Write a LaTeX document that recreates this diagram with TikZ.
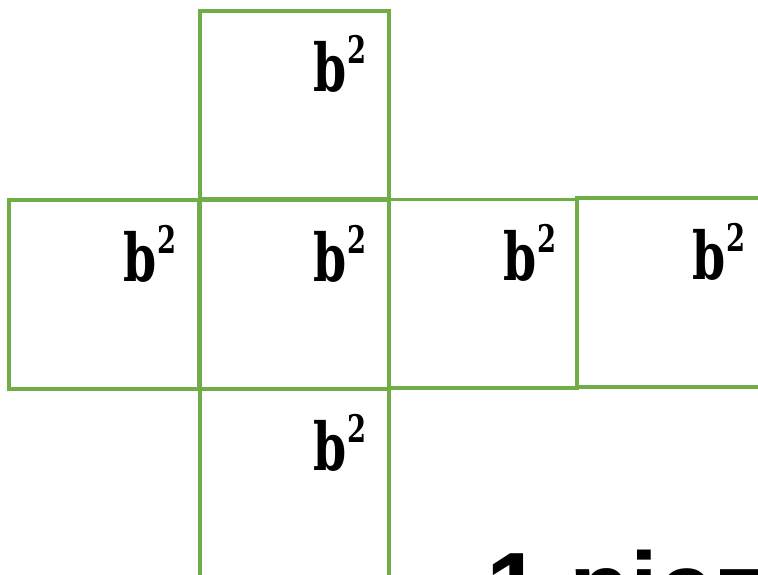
\documentclass[tikz,border=0pt]{standalone}
\usepackage{fontspec}
\setmainfont{DejaVu Serif}
\newfontfamily\bottomfont{Liberation Sans}
\definecolor{netgreen}{HTML}{70AD47}
\tikzset{
  face/.style={draw=netgreen, line width=3.2pt},
  lab/.style={anchor=base east, inner sep=0pt, font=\fontsize{66}{72}\selectfont\bfseries}
}
\newcommand{\bsq}{\scalebox{0.72}[1]{b\hspace{1pt}\raisebox{28pt}{\fontsize{38}{40}\selectfont 2}}}
\begin{document}
\begin{tikzpicture}[x=1pt,y=-1pt]
\useasboundingbox (0,0) rectangle (758,575);
\clip (0,0) rectangle (758,575);
\fill[white] (0,0) rectangle (758,575);
% faces
\draw[face] (200,11) rectangle (389,199);
\draw[face] (9,200) rectangle (199,389);
\draw[face] (200,200) rectangle (389,389);
\draw[face] (389,199.5) rectangle (577,388);
\draw[face] (577,198) rectangle (767,387);
\draw[face] (200,389) rectangle (389,580);
% labels
\node[lab] (ltop) at (367,92) {\bsq};
\node[lab] (lleft) at (177,281) {\bsq};
\node[lab] (lcenter) at (367,281) {\bsq};
\node[lab] (lright) at (557,280) {\bsq};
\node[lab] (lfar) at (746,279) {\bsq};
\node[lab] (lbottom) at (367,470) {\bsq};
% bottom text
\node[anchor=base west, inner sep=0pt, font=\bottomfont\fontsize{100}{110}\selectfont\bfseries] (txt) at (486,622) {1 piez};
\end{tikzpicture}
\end{document}
